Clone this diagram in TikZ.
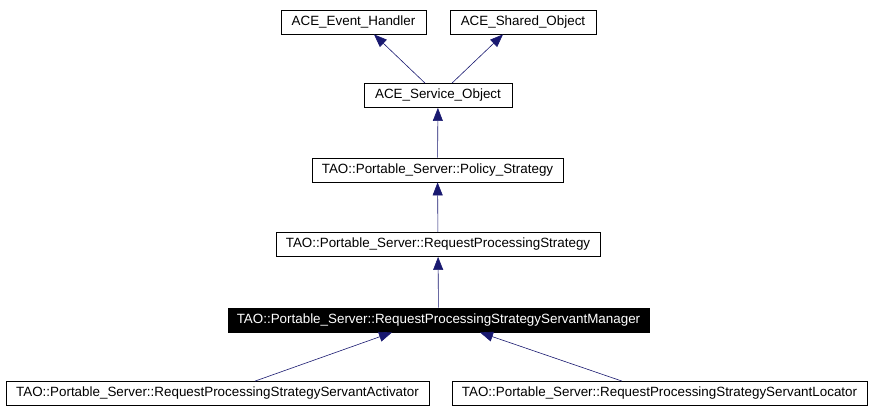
\documentclass[tikz,border=0pt]{standalone}
\usepackage{fontspec}
\setmainfont{Liberation Sans}
\usepackage{tikz}
\usetikzlibrary{arrows.meta, positioning}
\definecolor{edgeblue}{RGB}{25,25,112}

\begin{document}
\begin{tikzpicture}[
    x=1pt, y=-1pt,
    classbox/.style={rectangle, draw, line width=0.8pt, minimum height=24pt, inner xsep=2pt, inner ysep=0pt, font=\fontsize{13.4}{15}\selectfont},
    current/.style={classbox, fill=black, text=white},
    inherit/.style={draw=edgeblue, line width=0.6pt, {Triangle[length=13pt, width=10pt, fill=edgeblue]}-}
]
    \useasboundingbox (0,0) rectangle (872,413);

    % Base classes on top
    \node[classbox, minimum width=145pt] (handler) at (353.5, 22) {ACE\_Event\_Handler};
    \node[classbox, minimum width=146pt] (shared) at (523, 22) {ACE\_Shared\_Object};

    % Main inheritance chain
    \node[classbox, minimum width=148pt] (service) at (438, 95.5) {ACE\_Service\_Object};
    \node[classbox, minimum width=251pt] (policy) at (437.5, 170) {TAO::Portable\_Server::Policy\_Strategy};
    \node[classbox, minimum width=324pt] (rps) at (438, 244.5) {TAO::Portable\_Server::RequestProcessingStrategy};
    \node[current, minimum width=421pt] (manager) at (438.5, 320) {TAO::Portable\_Server::RequestProcessingStrategyServantManager};

    % Derived classes
    \node[classbox, minimum width=423pt] (activator) at (217.5, 393.5) {TAO::Portable\_Server::RequestProcessingStrategyServantActivator};
    \node[classbox, minimum width=415pt] (locator) at (659.5, 393.5) {TAO::Portable\_Server::RequestProcessingStrategyServantLocator};

    % Inheritance arrows
    \draw[inherit] ([xshift=20.5pt]handler.south) -- ([xshift=-13pt]service.north);
    \draw[inherit] ([xshift=-20pt]shared.south) -- ([xshift=14pt]service.north);
    \draw[inherit] (service) -- (policy);
    \draw[inherit] (policy) -- (rps);
    \draw[inherit] (rps) -- (manager);
    \draw[inherit] ([xshift=-46.5pt]manager.south) -- ([xshift=37.5pt]activator.north);
    \draw[inherit] ([xshift=41.5pt]manager.south) -- ([xshift=-37.5pt]locator.north);

\end{tikzpicture}
\end{document}
